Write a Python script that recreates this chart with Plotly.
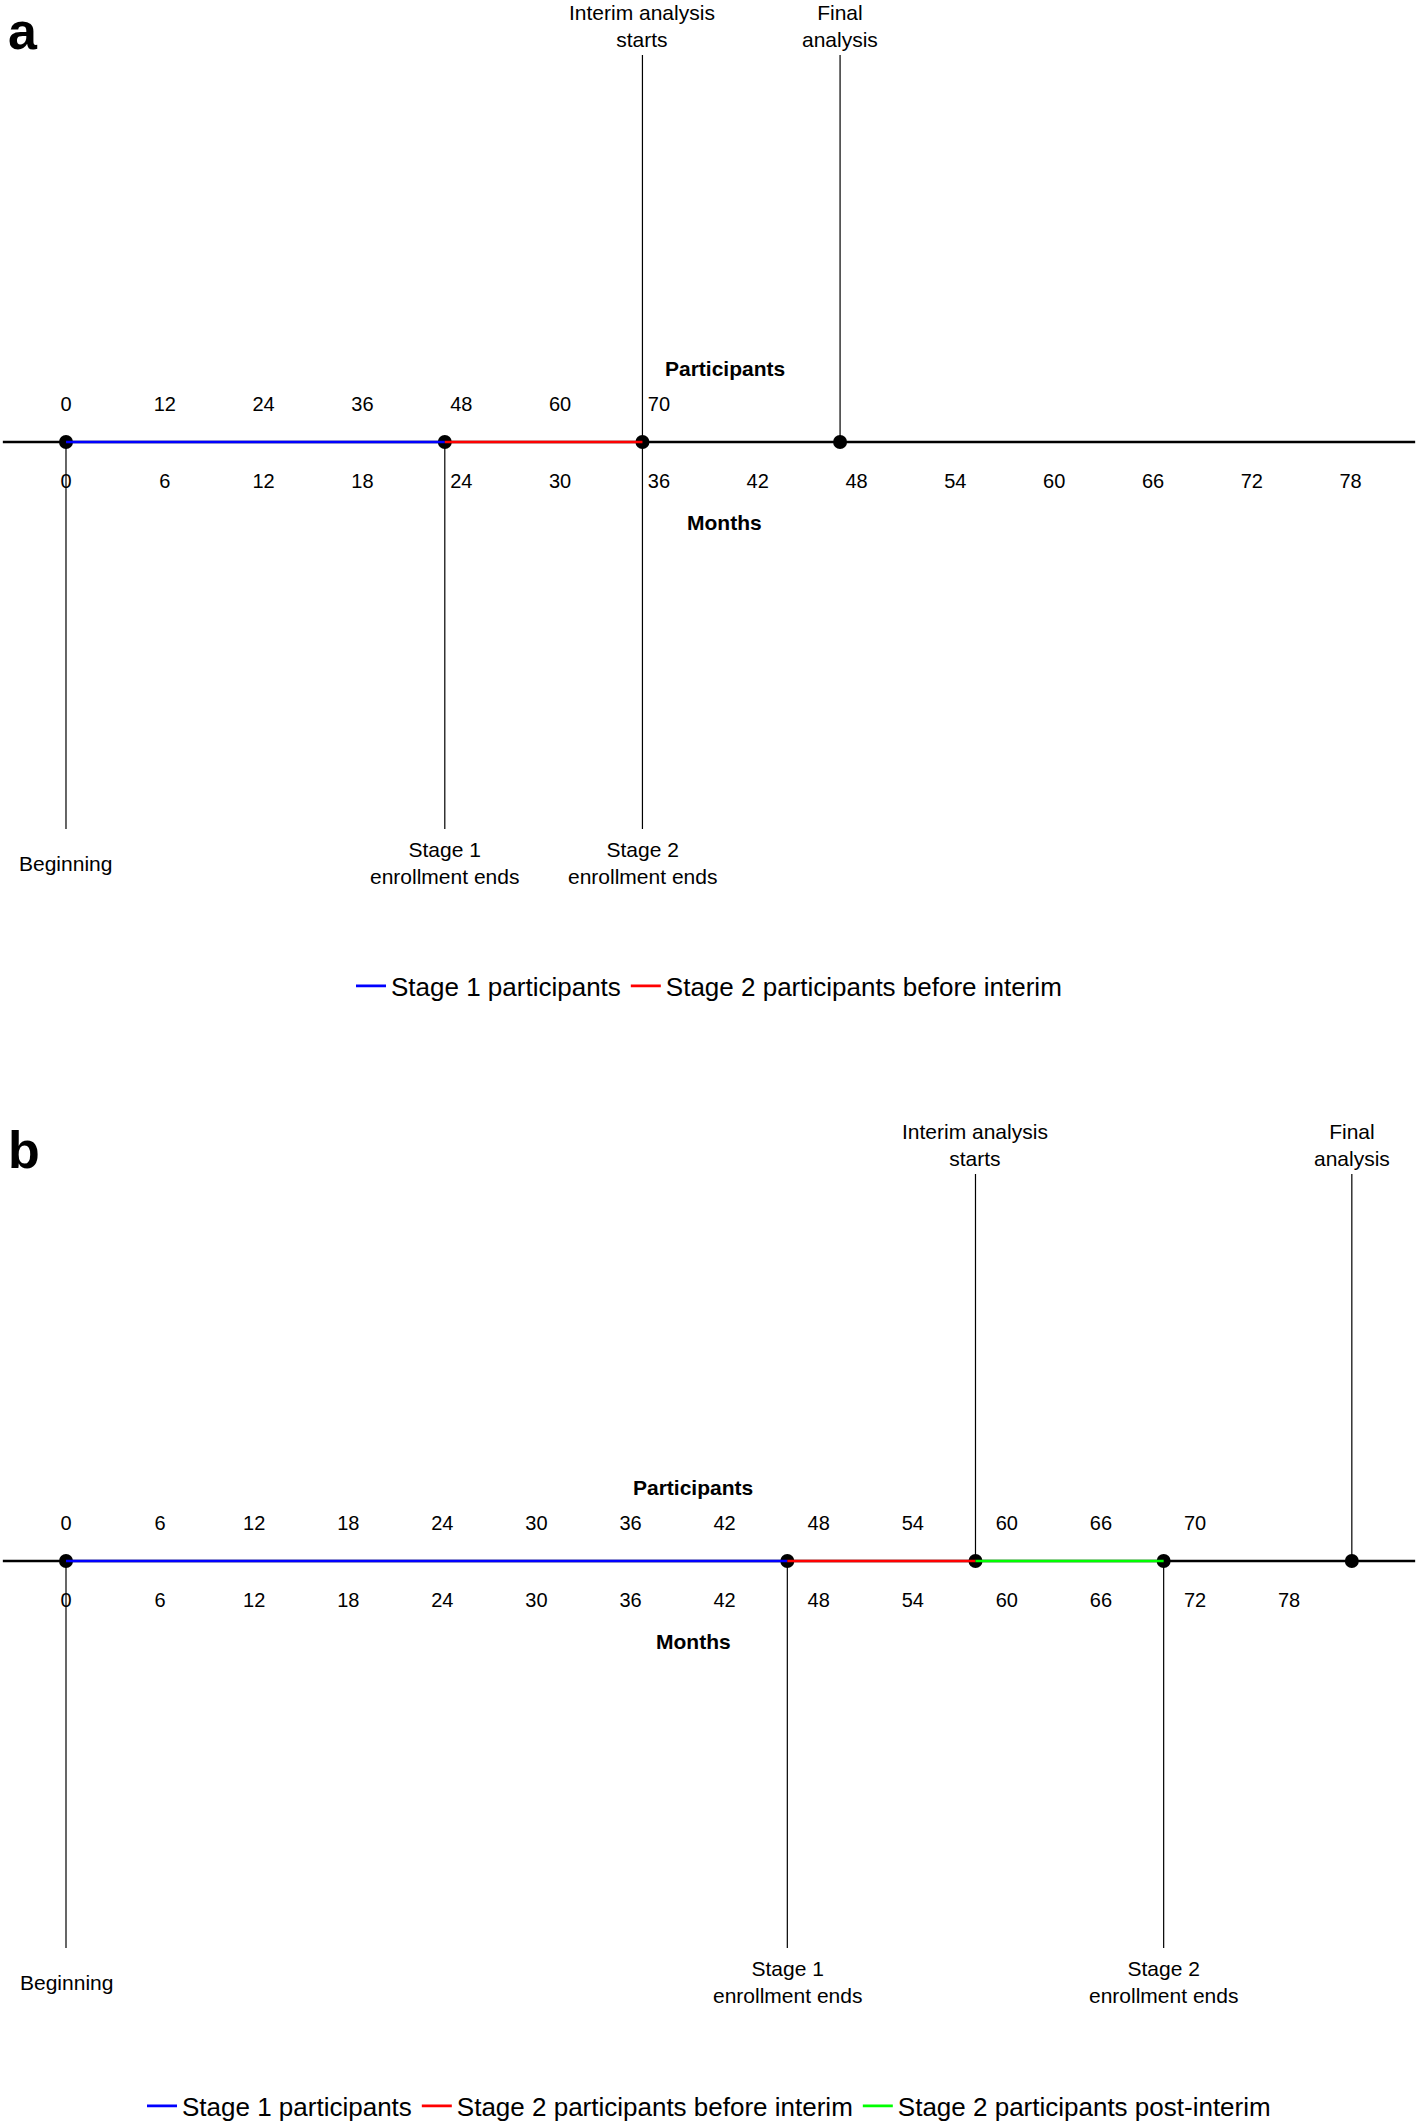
import plotly.graph_objects as go

# ---------------- data ----------------
MONTH_TICKS = [0, 6, 12, 18, 24, 30, 36, 42, 48, 54, 60, 66, 72, 78]

# panel a
A_PART_LABELS = [0, 12, 24, 36, 48, 60, 70]
A_PART_POS = [0, 6, 12, 18, 24, 30, 36]
A_EVENTS = [0, 23, 35, 47]
A_SEG_NAMES = ["Stage 1 participants", "Stage 2 participants before interim"]
A_SEG_START = [0, 23]
A_SEG_END = [23, 35]
A_BOTTOM_X = [0, 23, 35]
A_BOTTOM_TXT = ["Beginning", "Stage 1<br>enrollment ends", "Stage 2<br>enrollment ends"]
A_TOP_X = [35, 47]
A_TOP_TXT = ["Interim analysis<br>starts", "Final<br>analysis"]

# panel b
B_PART_LABELS = [0, 6, 12, 18, 24, 30, 36, 42, 48, 54, 60, 66, 70]
B_PART_POS = [0, 6, 12, 18, 24, 30, 36, 42, 48, 54, 60, 66, 72]
B_EVENTS = [0, 46, 58, 70, 82]
B_SEG_NAMES = ["Stage 1 participants", "Stage 2 participants before interim",
               "Stage 2 participants post-interim"]
B_SEG_START = [0, 46, 58]
B_SEG_END = [46, 58, 70]
B_BOTTOM_X = [0, 46, 70]
B_BOTTOM_TXT = ["Beginning", "Stage 1<br>enrollment ends", "Stage 2<br>enrollment ends"]
B_TOP_X = [58, 82]
B_TOP_TXT = ["Interim analysis<br>starts", "Final<br>analysis"]

AXIS_TITLE_X = 40

# ---------------- style / layout ----------------
FONT = "Liberation Sans, Arial, sans-serif"
SEG_COLORS = ["#0000FF", "#FF0000", "#00FF00"]
W, H = 1418, 2122

# vertical offsets (pixels, relative to timeline)
UP_LEN, DOWN_LEN = 387, 387
PART_Y, PART_TITLE_Y = 36, 74
MONTH_Y, MONTH_TITLE_Y = -41, -80
TOP_LBL_Y, BOT_LBL_Y = 416, -421

fig = go.Figure()
annotations = []


def panel(xa, ya, leg, part_labels, part_pos, events, seg_names, seg_start, seg_end,
          bot_x, bot_txt, top_x, top_txt):
    common = dict(xaxis=xa, yaxis=ya, hoverinfo="skip")
    # vertical drop lines
    for e in events:
        lo = -DOWN_LEN if e in bot_x else 0
        hi = UP_LEN if e in top_x else 0
        fig.add_trace(go.Scatter(x=[e, e], y=[lo, hi], mode="lines",
                                 line=dict(color="black", width=1.2),
                                 showlegend=False, **common))
    # event dots
    fig.add_trace(go.Scatter(x=events, y=[0] * len(events), mode="markers",
                             marker=dict(color="black", size=14),
                             showlegend=False, **common))
    # coloured segments
    for i, name in enumerate(seg_names):
        fig.add_trace(go.Scatter(x=[seg_start[i], seg_end[i]], y=[0, 0], mode="lines",
                                 line=dict(color=SEG_COLORS[i], width=2.6),
                                 name=name, legend=leg, showlegend=True, **common))
    # participant tick labels
    fig.add_trace(go.Scatter(x=part_pos, y=[PART_Y] * len(part_pos), mode="text",
                             text=[str(v) for v in part_labels],
                             textfont=dict(size=20, family=FONT, color="black"),
                             showlegend=False, **common))
    # month tick labels
    fig.add_trace(go.Scatter(x=MONTH_TICKS, y=[MONTH_Y] * len(MONTH_TICKS), mode="text",
                             text=[str(v) for v in MONTH_TICKS],
                             textfont=dict(size=20, family=FONT, color="black"),
                             showlegend=False, **common))
    xr = "x" if xa == "x" else "x2"
    yr = "y" if ya == "y" else "y2"
    annotations.append(dict(x=AXIS_TITLE_X, y=PART_TITLE_Y, xref=xr, yref=yr,
                            text="<b>Participants</b>", showarrow=False,
                            font=dict(size=21, family=FONT, color="black")))
    annotations.append(dict(x=AXIS_TITLE_X, y=MONTH_TITLE_Y, xref=xr, yref=yr,
                            text="<b>Months</b>", showarrow=False,
                            font=dict(size=21, family=FONT, color="black")))
    for x, t in zip(bot_x, bot_txt):
        annotations.append(dict(x=x, y=BOT_LBL_Y, xref=xr, yref=yr, text=t,
                                showarrow=False, yanchor="middle",
                                font=dict(size=21, family=FONT, color="black")))
    for x, t in zip(top_x, top_txt):
        annotations.append(dict(x=x, y=TOP_LBL_Y, xref=xr, yref=yr, text=t,
                                showarrow=False, yanchor="middle",
                                font=dict(size=21, family=FONT, color="black")))


panel("x", "y", "legend", A_PART_LABELS, A_PART_POS, A_EVENTS, A_SEG_NAMES,
      A_SEG_START, A_SEG_END, A_BOTTOM_X, A_BOTTOM_TXT, A_TOP_X, A_TOP_TXT)
panel("x2", "y2", "legend2", B_PART_LABELS, B_PART_POS, B_EVENTS, B_SEG_NAMES,
      B_SEG_START, B_SEG_END, B_BOTTOM_X, B_BOTTOM_TXT, B_TOP_X, B_TOP_TXT)

annotations.append(dict(x=6 / W, y=1, xref="paper", yref="paper",
                        text="<b>a</b>", showarrow=False, xanchor="left", yanchor="top",
                        font=dict(size=52, family=FONT, color="black")))
annotations.append(dict(x=6 / W, y=1 - 1150 / H, xref="paper", yref="paper",
                        text="<b>b</b>", showarrow=False, xanchor="left", yanchor="middle",
                        font=dict(size=52, family=FONT, color="black")))

shapes = [
    dict(type="line", xref="x domain", yref="y", x0=0.002, x1=0.998, y0=0, y1=0,
         line=dict(color="black", width=2.6), layer="below"),
    dict(type="line", xref="x2 domain", yref="y2", x0=0.002, x1=0.998, y0=0, y1=0,
         line=dict(color="black", width=2.6), layer="below"),
]

hidden = dict(visible=False, showgrid=False, zeroline=False, fixedrange=True)
fig.update_layout(
    width=W, height=H,
    margin=dict(l=0, r=0, t=0, b=0, autoexpand=False),
    paper_bgcolor="white", plot_bgcolor="white",
    xaxis=dict(domain=[0, 1], range=[-4.007, 82.09], anchor="y", **hidden),
    yaxis=dict(domain=[0.5, 1], range=[-619, 442], anchor="x", **hidden),
    xaxis2=dict(domain=[0, 1], range=[-4.209, 86.22], anchor="y2", **hidden),
    yaxis2=dict(domain=[0, 0.5], range=[-561, 500], anchor="x2", **hidden),
    legend=dict(orientation="h", x=0.5, xanchor="center", y=1 - 986 / H, yanchor="middle",
                font=dict(size=26, family=FONT, color="black"), bgcolor="rgba(0,0,0,0)"),
    legend2=dict(orientation="h", x=0.5, xanchor="center", y=1 - 2106 / H, yanchor="middle",
                 font=dict(size=26, family=FONT, color="black"), bgcolor="rgba(0,0,0,0)"),
    annotations=annotations,
    shapes=shapes,
    showlegend=True,
    hovermode=False,
)

fig.write_html("out.html", config={"displayModeBar": False},
               post_script="document.body.style.margin='0px';")
